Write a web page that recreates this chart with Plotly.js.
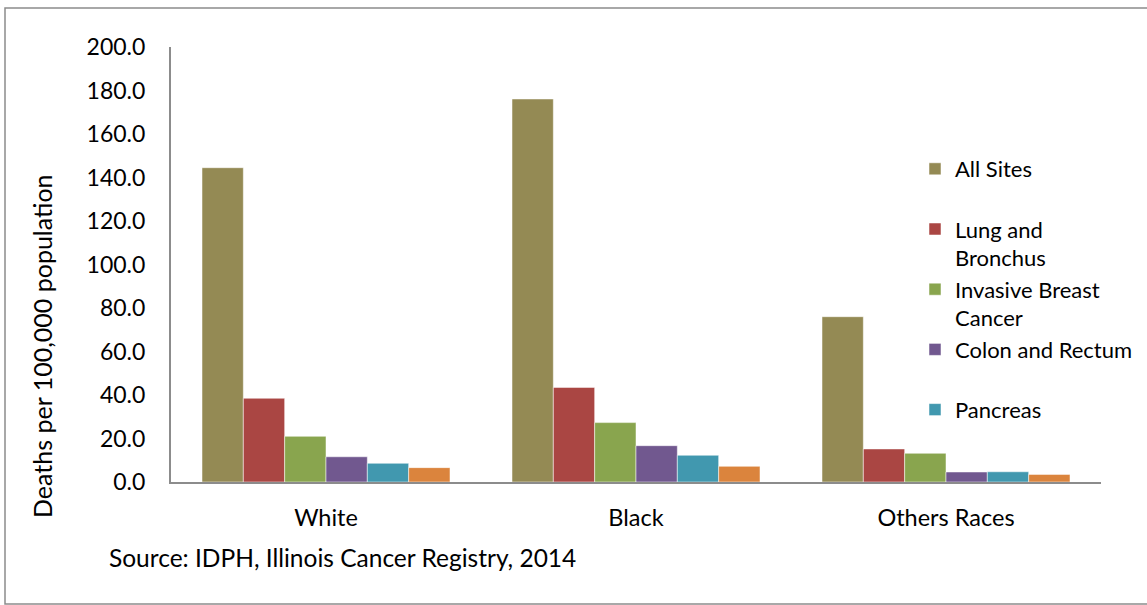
<!DOCTYPE html>
<html>
<head>
<meta charset="utf-8">
<script src="https://cdn.plot.ly/plotly-3.0.1.min.js"></script>
<style>
html,body{margin:0;padding:0;background:#fff;}
#chart{width:1147px;height:605px;}
</style>
</head>
<body>
<div id="chart"></div>
<script>
const categories = ["White", "Black", "Others Races"];
const seriesNames = ["All Sites", "Lung and<br>Bronchus", "Invasive Breast<br>Cancer", "Colon and Rectum", "Pancreas", "Other"];
const allSites = [144.5, 176.1, 76.0];
const lungBronchus = [38.5, 43.5, 15.2];
const invasiveBreast = [21.0, 27.3, 13.2];
const colonRectum = [11.6, 16.7, 4.6];
const pancreas = [8.6, 12.3, 4.7];
const other = [6.6, 7.2, 3.5];
const tickVals = [0, 20, 40, 60, 80, 100, 120, 140, 160, 180, 200];
const tickText = ["0.0", "20.0", "40.0", "60.0", "80.0", "100.0", "120.0", "140.0", "160.0", "180.0", "200.0"];

const colors = ["#948A54", "#AA4643", "#89A54E", "#71588F", "#4198AF", "#DB843D"];
const values = [allSites, lungBronchus, invasiveBreast, colonRectum, pancreas, other];
const legendLabels = [
  seriesNames[0] + "<br>\u00a0",
  seriesNames[1],
  seriesNames[2],
  seriesNames[3] + "<br>\u00a0",
  seriesNames[4],
  seriesNames[5]
];

const FONT = "Lato, 'Noto Sans', sans-serif";

const traces = values.map((v, i) => ({
  type: "bar",
  x: categories,
  y: v,
  name: legendLabels[i],
  showlegend: i < 5,
  marker: {color: colors[i], line: {color: "rgba(255,255,255,0.5)", width: 1}},
  hoverinfo: "x+y"
}));

const L = 171, R = 46, T = 47, B = 123;
const pw = 1147 - L - R, ph = 605 - T - B;
const px = v => (v - L) / pw;
const py = v => (605 - B - v) / ph;

const layout = {
  width: 1147,
  height: 605,
  margin: {l: L, r: R, t: T, b: B, pad: 0, autoexpand: false},
  paper_bgcolor: "#fff",
  plot_bgcolor: "#fff",
  font: {family: FONT, size: 23, color: "#000"},
  barmode: "group",
  bargap: 0.2,
  bargroupgap: 0,
  showlegend: true,
  legend: {
    x: px(915), y: py(148), xanchor: "left", yanchor: "top",
    font: {family: FONT, size: 22, color: "#000"},
    valign: "top",
    bgcolor: "rgba(0,0,0,0)",
    traceorder: "normal"
  },
  xaxis: {
    showline: true, linecolor: "#8c8c8c", linewidth: 2,
    ticks: "", showgrid: false, zeroline: false,
    tickfont: {family: FONT, size: 23.5, color: "#000"},
    ticklabelstandoff: 14,
    fixedrange: true
  },
  yaxis: {
    range: [0, 200],
    tickvals: tickVals, ticktext: tickText,
    showline: true, linecolor: "#8c8c8c", linewidth: 2,
    ticks: "", showgrid: false, zeroline: false,
    tickfont: {family: FONT, size: 23, color: "#000"},
    ticklabelstandoff: 19,
    fixedrange: true
  },
  annotations: [
    {
      text: "Deaths per 100,000 population",
      xref: "paper", yref: "paper",
      x: px(42), y: py(346), xanchor: "center", yanchor: "middle",
      textangle: -90, showarrow: false,
      font: {family: FONT, size: 25, color: "#000"}
    },
    {
      text: "Source: IDPH, Illinois Cancer Registry, 2014",
      xref: "paper", yref: "paper",
      x: px(107), y: py(557), xanchor: "left", yanchor: "middle",
      showarrow: false,
      font: {family: FONT, size: 24.5, color: "#000"}
    }
  ],
  shapes: [
    {
      type: "rect", xref: "paper", yref: "paper",
      x0: px(5), x1: px(1160), y0: py(604), y1: py(8),
      line: {color: "#8c8c8c", width: 1.5}, fillcolor: "rgba(0,0,0,0)", layer: "below"
    }
  ]
};

Plotly.newPlot("chart", traces, layout, {displayModeBar: false, staticPlot: true});
</script>
</body>
</html>
